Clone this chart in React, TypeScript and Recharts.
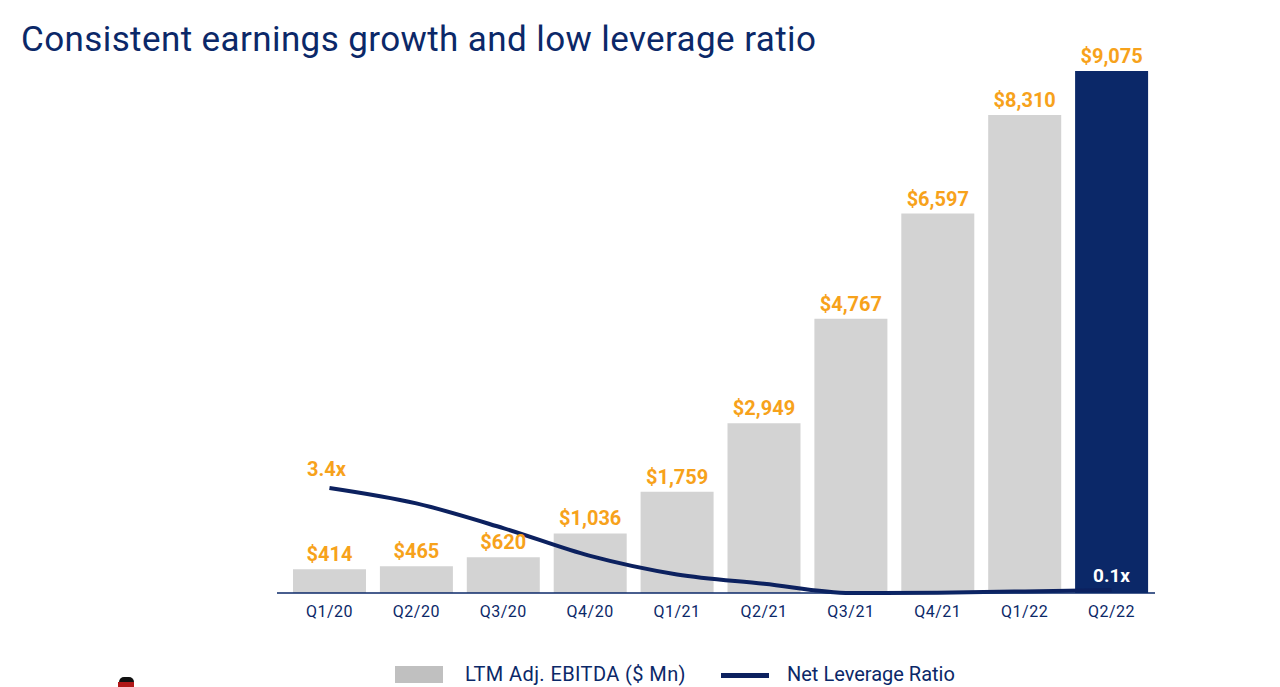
import { ComposedChart, Bar, Line, XAxis, YAxis, Cell, LabelList } from "recharts";

const quarters = ["Q1/20", "Q2/20", "Q3/20", "Q4/20", "Q1/21", "Q2/21", "Q3/21", "Q4/21", "Q1/22", "Q2/22"];
const ebitda = [414, 465, 620, 1036, 1759, 2949, 4767, 6597, 8310, 9075];
const leverage = [3.4, 2.9, 2.1, 1.2, 0.6, 0.3, 0.0, 0.01, 0.05, 0.1];

const NAVY = "#0b2868";
const LINE = "#0c215f";
const ORANGE = "#f7a21b";
const GRAY = "#d3d3d3";
const FONT = "Roboto, 'Open Sans', sans-serif";

const data = quarters.map((q, i) => ({ q, ebitda: ebitda[i], lev: leverage[i] }));

const fmtMoney = (v: any) => "$" + Number(v).toLocaleString("en-US");

function LevLabel(props: any) {
  const { x, y, index, value } = props;
  if (index === 0) {
    return (
      <text x={x - 3} y={y - 12} textAnchor="middle" fill={ORANGE} fontSize={20} fontWeight={700} fontFamily={FONT}>
        {value.toFixed(1)}x
      </text>
    );
  }
  if (index === quarters.length - 1) {
    return (
      <text x={x} y={y - 8} textAnchor="middle" fill="#ffffff" fontSize={19} fontWeight={700} fontFamily={FONT}>
        {value.toFixed(1)}x
      </text>
    );
  }
  return null;
}

export default function App() {
  return (
    <div style={{ position: "absolute", left: 0, top: 0, width: 1280, height: 687, background: "#fff", overflow: "hidden", fontFamily: FONT }}>
      <div style={{ position: "absolute", left: 21, top: 19, fontSize: 35, color: NAVY, letterSpacing: 0.4, whiteSpace: "nowrap" }}>
        Consistent earnings growth and low leverage ratio
      </div>
      <div style={{ position: "absolute", left: 0, top: 0 }}>
        <ComposedChart width={1280} height={687} data={data} margin={{ top: 71, right: 125, bottom: 64, left: 277 }} barCategoryGap={7}>
          <XAxis
            dataKey="q"
            height={30}
            padding={{ left: 9, right: 0 }}
            axisLine={{ stroke: NAVY, strokeWidth: 1.5 }}
            tickLine={false}
            tickSize={0}
            tickMargin={13}
            tick={{ fill: NAVY, fontSize: 16, fontFamily: FONT, letterSpacing: 0.5 }}
            interval={0}
          />
          <YAxis yAxisId="left" hide domain={[0, 9075]} />
          <YAxis yAxisId="right" orientation="right" hide domain={[0, 16.9]} />
          <Bar yAxisId="left" dataKey="ebitda" isAnimationActive={false}>
            {data.map((d, i) => (
              <Cell key={d.q} fill={i === data.length - 1 ? NAVY : GRAY} />
            ))}
            <LabelList dataKey="ebitda" position="top" offset={8} formatter={fmtMoney} fill={ORANGE} fontSize={20} fontWeight={700} fontFamily={FONT} />
          </Bar>
          <Line yAxisId="right" type="monotone" dataKey="lev" stroke={LINE} strokeWidth={4} dot={false} isAnimationActive={false}>
            <LabelList dataKey="lev" content={<LevLabel />} />
          </Line>
        </ComposedChart>
      </div>
      <div style={{ position: "absolute", left: 395, top: 666, width: 48, height: 17, background: "#c0c0c0" }} />
      <div style={{ position: "absolute", left: 465, top: 662, fontSize: 20, color: NAVY, letterSpacing: 0.4, whiteSpace: "nowrap" }}>LTM Adj. EBITDA ($ Mn)</div>
      <div style={{ position: "absolute", left: 721, top: 673, width: 48, height: 5, background: LINE }} />
      <div style={{ position: "absolute", left: 787, top: 662, fontSize: 20, color: NAVY, letterSpacing: 0, whiteSpace: "nowrap" }}>Net Leverage Ratio</div>
      <div style={{ position: "absolute", left: 119, top: 677, width: 15, height: 5, background: "#111", borderRadius: "6px 6px 0 0" }} />
      <div style={{ position: "absolute", left: 118, top: 682, width: 16, height: 5, background: "#b01818" }} />
    </div>
  );
}
